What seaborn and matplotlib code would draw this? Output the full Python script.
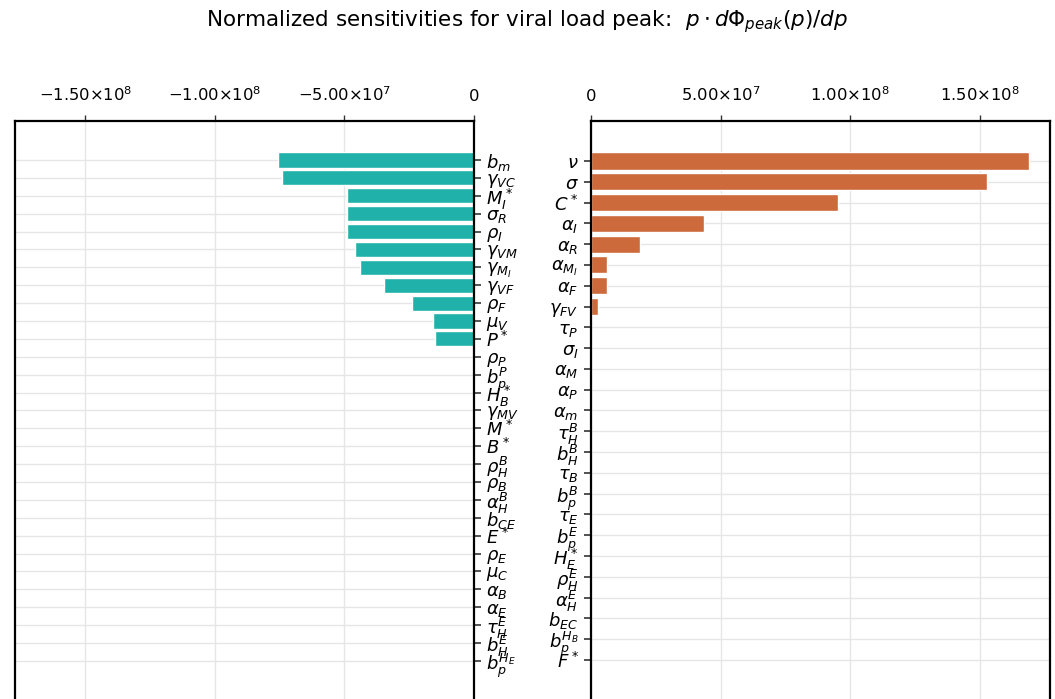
import numpy as np
import pandas as pd
import matplotlib
matplotlib.use("Agg")
import matplotlib.pyplot as plt
import seaborn as sns
from matplotlib.ticker import FuncFormatter, FixedLocator

# ---- data ----
neg_labels = [r"$b_m$", r"$\gamma_{VC}$", r"$M_I^*$", r"$\sigma_R$", r"$\rho_I$",
              r"$\gamma_{VM}$", r"$\gamma_{M_I}$", r"$\gamma_{VF}$", r"$\rho_F$",
              r"$\mu_V$", r"$P^*$", r"$\rho_P$", r"$b_p^P$", r"$H_B^*$",
              r"$\gamma_{MV}$", r"$M^*$", r"$B^*$", r"$\rho_H^B$", r"$\rho_B$",
              r"$\alpha_H^B$", r"$b_{CE}$", r"$E^*$", r"$\rho_E$", r"$\mu_C$",
              r"$\alpha_B$", r"$\alpha_E$", r"$\tau_H^E$", r"$b_H^E$", r"$b_p^{H_E}$"]
neg_values = [-7.55e7, -7.40e7, -4.92e7, -4.92e7, -4.92e7, -4.61e7, -4.42e7,
              -3.49e7, -2.40e7, -1.59e7, -1.51e7, 0, 0, 0, 0, 0, 0, 0, 0, 0,
              0, 0, 0, 0, 0, 0, 0, 0, 0]

pos_labels = [r"$\nu$", r"$\sigma$", r"$C^*$", r"$\alpha_I$", r"$\alpha_R$",
              r"$\alpha_{M_I}$", r"$\alpha_F$", r"$\gamma_{FV}$", r"$\tau_P$",
              r"$\sigma_I$", r"$\alpha_M$", r"$\alpha_P$", r"$\alpha_m$",
              r"$\tau_H^B$", r"$b_H^B$", r"$\tau_B$", r"$b_p^B$", r"$\tau_E$",
              r"$b_p^E$", r"$H_E^*$", r"$\rho_H^E$", r"$\alpha_H^E$", r"$b_{EC}$",
              r"$b_p^{H_B}$", r"$F^*$"]
pos_values = [1.690e8, 1.527e8, 9.52e7, 4.37e7, 1.88e7, 6.2e6, 6.2e6, 2.6e6,
              0, 0, 0, 0, 0, 0, 0, 0, 0, 0, 0, 0, 0, 0, 0, 0, 0]

neg_ticks = [-1.5e8, -1.0e8, -5.0e7, 0]
pos_ticks = [0, 5.0e7, 1.0e8, 1.5e8]
title = r"Normalized sensitivities for viral load peak:  $p \cdot d\Phi_{peak}(p)/dp$"

# ---- style ----
sns.set_style("ticks")
plt.rcParams['font.family'] = ['DejaVu Sans']
plt.rcParams['mathtext.fontset'] = 'dejavusans'
plt.rcParams['text.color'] = 'black'
plt.rcParams['xtick.color'] = 'black'
plt.rcParams['ytick.color'] = 'black'
plt.rcParams['xtick.labelcolor'] = 'black'
plt.rcParams['ytick.labelcolor'] = 'black'

W, H = 1055, 699
fig = plt.figure(figsize=(W / 100, H / 100), dpi=100)

def frac_x(px):
    return px / W

top_px = 121
axL = fig.add_axes([frac_x(15), 0, frac_x(474 - 15), 1 - top_px / H])
axR = fig.add_axes([frac_x(591), 0, frac_x(1050 - 591), 1 - top_px / H])

teal = "#20B2AA"
orange = "#CD6A3B"

dfL = pd.DataFrame({"param": neg_labels, "value": neg_values})
dfR = pd.DataFrame({"param": pos_labels, "value": pos_values})

sns.barplot(data=dfL, x="value", y="param", orient="h", color=teal,
            saturation=1, width=0.84, ax=axL)
sns.barplot(data=dfR, x="value", y="param", orient="h", color=orange,
            saturation=1, width=0.82, ax=axR)

def sci_fmt(v, pos=None):
    if v == 0:
        return "0"
    exp = int(np.floor(np.log10(abs(v))))
    mant = v / 10 ** exp
    return r"$%.2f{\times}10^{%d}$" % (mant, exp)

lim = 1.772e8
for ax, ticks in ((axL, neg_ticks), (axR, pos_ticks)):
    ax.set_xlabel("")
    ax.set_ylabel("")
    ax.xaxis.set_major_locator(FixedLocator(ticks))
    ax.xaxis.set_major_formatter(FuncFormatter(sci_fmt))
    ax.xaxis.tick_top()
    ax.tick_params(axis="x", direction="out", length=4, width=1, color="#333333",
                   labelsize=11.8, pad=8)
    ax.tick_params(axis="y", direction="out", length=5, width=1.3, color="#444444",
                   labelsize=13, pad=4)
    ax.grid(True, color="#e6e6e6", linewidth=1.0)
    ax.set_axisbelow(True)
    for s in ax.spines.values():
        s.set_linewidth(1.6)
        s.set_color("black")
    ax.spines["bottom"].set_visible(False)

axL.set_xlim(-lim, 0)
axR.set_xlim(0, lim)

# y-limits chosen so the categories sit at the same pixel rows as the reference
spL = 17.89
axL.set_ylim((699 - 160) / spL, -(160 - top_px) / spL)
spR = 20.79
axR.set_ylim((699 - 161) / spR, -(161 - top_px) / spR)

axL.yaxis.tick_right()
axL.spines["left"].set_visible(True)
axL.spines["right"].set_visible(True)
for lbl in axL.get_yticklabels():
    lbl.set_horizontalalignment("left")

fig.text(0.5, 1 - 22 / H, title, ha="center", va="center", fontsize=15.5, color="black")

fig.savefig("out.png", dpi=100)
